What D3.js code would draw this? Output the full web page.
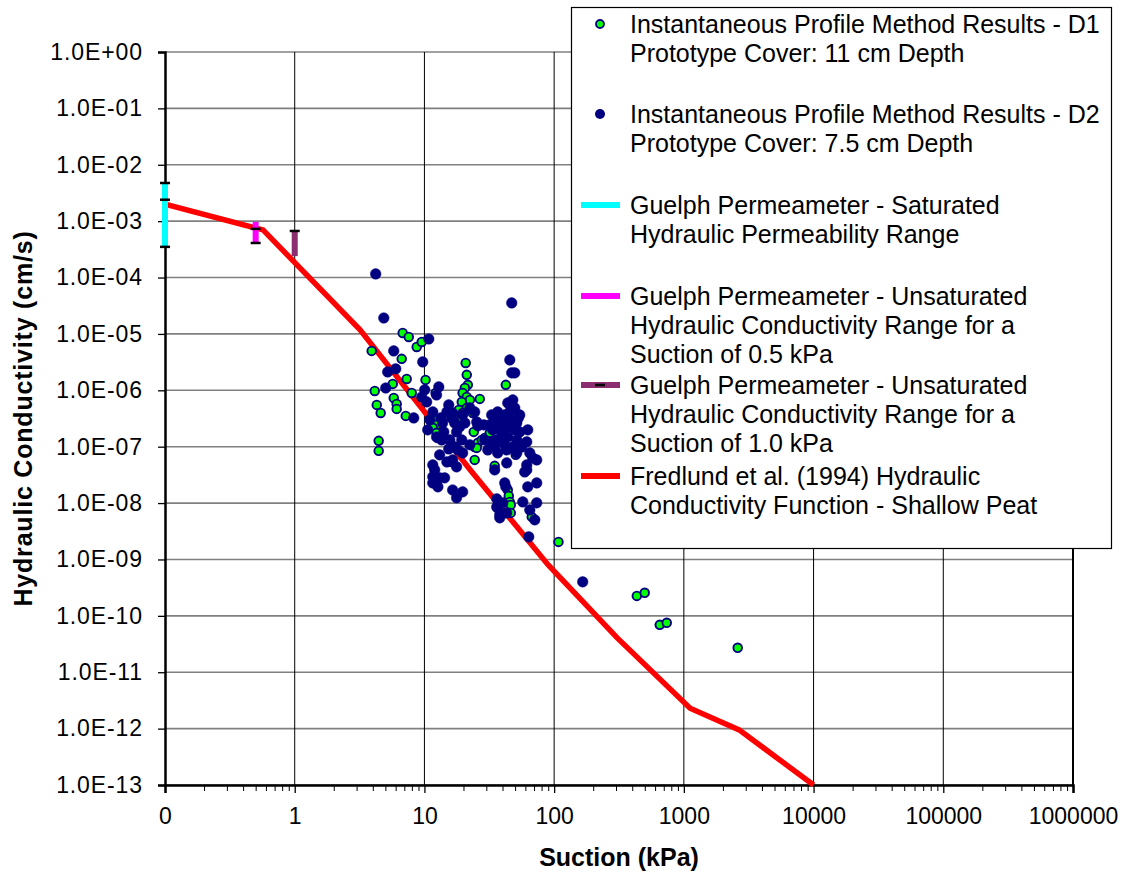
<!DOCTYPE html>
<html>
<head>
<meta charset="utf-8">
<script src="https://cdn.jsdelivr.net/npm/d3@7"></script>
<style>
  html, body { margin: 0; padding: 0; background: #fff; }
  svg { display: block; }
  text { font-family: "Liberation Sans", Arial, sans-serif; fill: #000; }
</style>
</head>
<body>
<svg id="chart" width="1125" height="875"></svg>
<script>
// ---------------- DATA ----------------
const xTickValues = [0.1, 1, 10, 100, 1000, 10000, 100000, 1000000];
const xTickLabels = ["0", "1", "10", "100", "1000", "10000", "100000", "1000000"];
const yTickValues = [1, 1e-1, 1e-2, 1e-3, 1e-4, 1e-5, 1e-6, 1e-7, 1e-8, 1e-9, 1e-10, 1e-11, 1e-12, 1e-13];
const yTickLabels = ["1.0E+00", "1.0E-01", "1.0E-02", "1.0E-03", "1.0E-04", "1.0E-05", "1.0E-06",
                     "1.0E-07", "1.0E-08", "1.0E-09", "1.0E-10", "1.0E-11", "1.0E-12", "1.0E-13"];

// Instantaneous Profile Method Results - D1 (suction kPa, K cm/s)
const d1Suction = [6.80, 7.57, 8.72, 9.53, 3.92, 6.68, 7.30, 5.70, 7.98, 10.2,
                   4.14, 5.80, 6.11, 6.11, 4.29, 4.60, 7.18, 12.2, 4.44, 4.44,
                   20.8, 21.2, 21.6, 20.5, 19.7, 21.2, 22.4, 19.4, 21.2, 18.4,
                   19.7, 19.4, 23.6, 26.7, 42.4, 34.2, 11.6, 12.4, 11.6, 12.4,
                   12.7, 16.2, 24.0, 24.4, 25.8, 27.7, 29.2, 25.3, 24.4, 34.8,
                   50.6, 43.9, 44.7, 45.5, 46.3, 46.3, 67.2, 31.9, 108, 434,
                   499, 652, 738, 2600];
const d1K = [1.04e-5, 8.85e-6, 5.88e-6, 7.21e-6, 5.0e-6, 3.61e-6, 1.59e-6, 1.30e-6, 8.99e-7, 1.53e-6,
             9.75e-7, 7.33e-7, 5.74e-7, 4.68e-7, 5.51e-7, 3.97e-7, 3.52e-7, 8.99e-7, 1.27e-7, 8.43e-8,
             3.06e-6, 1.88e-6, 1.25e-6, 1.10e-6, 8.99e-7, 7.63e-7, 6.76e-7, 6.23e-7, 4.88e-7, 4.49e-7,
             3.97e-7, 3.24e-7, 3.97e-7, 7.04e-7, 1.25e-6, 3.66e-7, 3.11e-7, 2.44e-7, 2.16e-7, 1.76e-7,
             1.43e-7, 5.37e-8, 1.83e-7, 9.91e-8, 1.17e-7, 1.32e-7, 1.43e-7, 9.52e-8, 5.83e-8, 4.57e-8,
             7.16e-8, 1.71e-8, 1.34e-8, 1.05e-8, 9.29e-9, 6.70e-9, 5.69e-9, 1.76e-7, 2.05e-9, 2.26e-10,
             2.56e-10, 6.92e-11, 7.52e-11, 2.71e-11];

// Instantaneous Profile Method Results - D2
const d2Suction = [4.21, 4.86, 10.8, 5.80, 9.70, 5.21, 6.01, 12.9, 5.03, 8.27,
                   10.05, 9.53, 10.4, 11.6, 11.0, 10.6, 12.4, 13.6, 14.9, 16.2,
                   17.1, 17.7, 15.7, 17.1, 19.4, 20.5, 19.7, 16.5, 18.7, 15.4,
                   18.1, 19.7, 25.3, 24.4, 22.4, 17.7, 14.9, 11.6, 12.0, 11.6,
                   13.1, 14.3, 11.6, 12.7, 16.5, 19.7, 17.7, 47.1, 45.5, 47.1,
                   49.7, 33.0, 36.7, 41.6, 45.5, 49.7, 48.0, 43.9, 36.1, 40.2,
                   45.5, 51.5, 33.6, 38.1, 43.1, 49.7, 39.5, 43.9, 51.5, 36.1,
                   31.9, 29.2, 36.7, 48.0, 62.6, 61.5, 64.9, 68.4, 61.5, 73.4,
                   61.5, 62.6, 73.4, 57.3, 73.4, 64.9, 70.9, 36.1, 36.1, 40.2,
                   38.1, 43.1, 41.6, 63.7, 34.8, 59.3, 42.4, 36.7, 38.1, 166,
                   30.8, 43.1, 43.1, 51.5, 34.8, 54.3, 13.8, 25.8, 28.7, 22.4,
                   54.3, 31.9, 13.1, 14.1, 41.6, 56.3, 12.4, 16.5, 15.4, 13.4,
                   46.3, 53.0, 39.5, 44.7];
const d2K = [1.16e-4, 1.92e-5, 8.15e-6, 5.0e-6, 3.19e-6, 2.12e-6, 2.40e-6, 1.15e-6, 1.10e-6, 3.24e-7,
             1.02e-6, 7.63e-7, 6.23e-7, 4.14e-7, 2.99e-7, 1.99e-7, 1.49e-7, 1.32e-7, 4.14e-7, 3.24e-7,
             2.64e-7, 1.83e-7, 1.32e-7, 9.91e-8, 1.32e-7, 2.64e-7, 3.66e-7, 3.97e-7, 2.25e-7, 9.14e-8,
             8.77e-8, 7.76e-8, 2.75e-7, 4.14e-7, 4.88e-7, 4.39e-8, 5.37e-8, 4.75e-8, 3.88e-8, 2.92e-8,
             2.80e-8, 2.80e-8, 2.28e-8, 1.94e-8, 1.71e-8, 1.58e-8, 1.24e-8, 3.55e-5, 3.46e-6, 2.04e-6,
             2.04e-6, 3.66e-7, 4.14e-7, 3.66e-7, 4.14e-7, 4.88e-7, 6.76e-7, 5.98e-7, 2.64e-7, 2.75e-7,
             2.99e-7, 2.64e-7, 1.99e-7, 1.99e-7, 2.16e-7, 1.99e-7, 1.49e-7, 1.49e-7, 1.32e-7, 1.32e-7,
             1.22e-7, 1.32e-7, 7.76e-8, 9.91e-8, 1.99e-7, 1.22e-7, 7.76e-8, 6.33e-8, 4.75e-8, 5.83e-8,
             3.88e-8, 1.94e-8, 2.28e-8, 1.05e-8, 1.01e-8, 7.57e-9, 5.04e-9, 1.19e-8, 8.56e-9, 1.01e-8,
             6.18e-9, 6.70e-9, 2.28e-8, 2.52e-9, 3.88e-8, 3.57e-8, 1.94e-8, 8.22e-9, 5.47e-9, 4.01e-10,
             8.77e-8, 8.77e-8, 5.16e-8, 7.76e-8, 1.03e-7, 1.83e-7, 2.64e-7, 2.34e-7, 2.44e-7, 1.08e-7,
             3.66e-7, 2.44e-7, 7.16e-8, 1.83e-7, 1.08e-7, 9.91e-8, 8.28e-7, 5.83e-8, 5.51e-7, 3.24e-7,
             5.51e-7, 3.24e-7, 3.11e-7, 2.44e-7];

// Fredlund et al. (1994) hydraulic conductivity function - Shallow Peat
const fredSuction = [0.1, 0.57, 3.19, 22.5, 90, 305, 1117, 2670, 10000];
const fredK = [2.0e-3, 7.0e-4, 1.18e-5, 3.9e-8, 8.0e-10, 4.1e-11, 2.3e-12, 9.5e-13, 1.0e-13];

// Guelph permeameter ranges
const guelphSuction = [0.1, 0.5, 1.0];
const guelphLow = [3.5e-4, 4.1e-4, 2.4e-4];
const guelphHigh = [4.75e-3, 9.7e-4, 6.7e-4];
const guelphMarks = [[4.75e-3, 2.4e-3, 3.5e-4], [7.3e-4, 4.1e-4], [6.7e-4]];
const guelphColors = ["#00FFFF", "#FF00FF", "#8B2D6E"];

const legendLines = [
  ["Instantaneous Profile Method Results - D1", "Prototype Cover: 11 cm Depth"],
  ["Instantaneous Profile Method Results - D2", "Prototype Cover: 7.5 cm Depth"],
  ["Guelph Permeameter - Saturated", "Hydraulic Permeability Range"],
  ["Guelph Permeameter - Unsaturated", "Hydraulic Conductivity Range for a", "Suction of 0.5 kPa"],
  ["Guelph Permeameter - Unsaturated", "Hydraulic Conductivity Range for a", "Suction of 1.0 kPa"],
  ["Fredlund et al. (1994) Hydraulic", "Conductivity Function - Shallow Peat"]
];

// ---------------- LAYOUT ----------------
const svg = d3.select("#chart");
const plot = { left: 165, right: 1073, top: 52, bottom: 785 };

const x = d3.scaleLog().domain([0.1, 1e6]).range([plot.left, plot.right]);
const y = d3.scaleLog().domain([1e-13, 1]).range([plot.bottom, plot.top]);

svg.append("defs").append("clipPath").attr("id", "clip")
  .append("rect").attr("x", plot.left).attr("y", plot.top - 2)
  .attr("width", plot.right - plot.left).attr("height", plot.bottom - plot.top + 4);

// gridlines
const grid = svg.append("g");
grid.selectAll("line.h").data(yTickValues).join("line")
  .attr("x1", plot.left).attr("x2", plot.right)
  .attr("y1", d => y(d)).attr("y2", d => y(d))
  .attr("stroke", "#808080").attr("stroke-width", 1.6);
grid.selectAll("line.v").data(xTickValues.slice(1)).join("line")
  .attr("x1", d => x(d)).attr("x2", d => x(d))
  .attr("y1", plot.top).attr("y2", plot.bottom)
  .attr("stroke", "#000").attr("stroke-width", 1);

// x minor ticks
const minor = [];
xTickValues.slice(0, -1).forEach(v => { for (let m = 2; m <= 9; m++) minor.push(v * m); });
const xMinorAxis = d3.axisBottom(x).tickValues(minor).tickSize(6).tickFormat("");
svg.append("g").attr("transform", `translate(0,${plot.bottom})`).call(xMinorAxis)
  .call(g => g.select(".domain").remove())
  .call(g => g.selectAll("line").attr("stroke", "#000").attr("stroke-width", 1));

// x axis
const xAxis = d3.axisBottom(x).tickValues(xTickValues).tickSize(8).tickPadding(15)
  .tickFormat((d, i) => xTickLabels[i]);
svg.append("g").attr("transform", `translate(0,${plot.bottom})`).call(xAxis)
  .call(g => g.select(".domain").attr("stroke", "#000").attr("stroke-width", 2.5))
  .call(g => g.selectAll("line").attr("stroke", "#000").attr("stroke-width", 1.3))
  .call(g => g.selectAll("text").attr("font-size", 23).attr("font-family", "Liberation Sans, Arial, sans-serif").attr("fill", "#000"));

// y axis
const yAxis = d3.axisLeft(y).tickValues(yTickValues).tickSize(7).tickPadding(15)
  .tickFormat((d, i) => yTickLabels[i]);
svg.append("g").attr("transform", `translate(${plot.left},0)`).call(yAxis)
  .call(g => g.select(".domain").attr("stroke", "#000").attr("stroke-width", 2.5))
  .call(g => g.selectAll("line").attr("stroke", "#000").attr("stroke-width", 1.3))
  .call(g => g.selectAll("text").attr("font-size", 23).attr("letter-spacing", "0.9px")
    .attr("font-family", "Liberation Sans, Arial, sans-serif").attr("fill", "#000"));

// right border
svg.append("line").attr("x1", plot.right).attr("x2", plot.right)
  .attr("y1", plot.top).attr("y2", plot.bottom).attr("stroke", "#000").attr("stroke-width", 2);

// axis titles
svg.append("text").attr("x", 619).attr("y", 866)
  .attr("text-anchor", "middle").attr("font-size", 25).attr("font-weight", "bold")
  .text("Suction (kPa)");
svg.append("text").attr("transform", `translate(32,${(plot.top + plot.bottom) / 2}) rotate(-90)`)
  .attr("text-anchor", "middle").attr("font-size", 25).attr("font-weight", "bold")
  .attr("letter-spacing", "0.8px")
  .text("Hydraulic Conductivity (cm/s)");

// ---------------- MARKS ----------------
const marks = svg.append("g").attr("clip-path", "url(#clip)");

// Fredlund line
const fred = fredSuction.map((s, i) => [s, fredK[i]]);
marks.append("path").datum(fred)
  .attr("d", d3.line().x(d => x(d[0])).y(d => y(d[1])))
  .attr("fill", "none").attr("stroke", "#FF0000").attr("stroke-width", 5.5)
  .attr("stroke-linejoin", "miter");

// Guelph ranges
const gG = svg.append("g");
guelphSuction.forEach((s, i) => {
  gG.append("line").attr("x1", x(s)).attr("x2", x(s))
    .attr("y1", y(guelphLow[i])).attr("y2", y(guelphHigh[i]))
    .attr("stroke", guelphColors[i]).attr("stroke-width", 6);
  gG.selectAll(null).data(guelphMarks[i]).join("line")
    .attr("x1", x(s) - 5).attr("x2", x(s) + 5)
    .attr("y1", d => y(d)).attr("y2", d => y(d))
    .attr("stroke", "#000").attr("stroke-width", 2.5);
});

// D1 points
const d1 = d1Suction.map((s, i) => [s, d1K[i]]);
marks.append("g").selectAll("circle").data(d1).join("circle")
  .attr("cx", d => x(d[0])).attr("cy", d => y(d[1])).attr("r", 4.3)
  .attr("fill", "#00FF00").attr("stroke", "#000080").attr("stroke-width", 1.9);

// D2 points
const d2 = d2Suction.map((s, i) => [s, d2K[i]]);
marks.append("g").selectAll("circle").data(d2).join("circle")
  .attr("cx", d => x(d[0])).attr("cy", d => y(d[1])).attr("r", 5.3)
  .attr("fill", "#000080").attr("stroke", "#000080").attr("stroke-width", 0.5);

// ---------------- LEGEND ----------------
const lg = svg.append("g");
lg.append("rect").attr("x", 571.5).attr("y", 7.5).attr("width", 540).attr("height", 541)
  .attr("fill", "#fff").attr("stroke", "#000").attr("stroke-width", 1.2);

const entryTop = [24, 114, 205, 296, 385, 476];
const lineGap = 29;
legendLines.forEach((lines, i) => {
  lines.forEach((t, j) => {
    lg.append("text").attr("x", 630).attr("y", entryTop[i] + j * lineGap + 8.5)
      .attr("font-size", 25).text(t);
  });
});
// symbols
lg.append("circle").attr("cx", 600).attr("cy", entryTop[0]).attr("r", 4)
  .attr("fill", "#00FF00").attr("stroke", "#000080").attr("stroke-width", 1.8);
lg.append("circle").attr("cx", 600).attr("cy", entryTop[1]).attr("r", 5)
  .attr("fill", "#000080");
[guelphColors[0], guelphColors[1], guelphColors[2], "#FF0000"].forEach((c, k) => {
  const yy = entryTop[k + 2];
  lg.append("line").attr("x1", 581).attr("x2", 620).attr("y1", yy).attr("y2", yy)
    .attr("stroke", c).attr("stroke-width", 6);
});
lg.append("line").attr("x1", 595).attr("x2", 605).attr("y1", entryTop[4]).attr("y2", entryTop[4])
  .attr("stroke", "#000").attr("stroke-width", 2.5);
</script>
</body>
</html>
